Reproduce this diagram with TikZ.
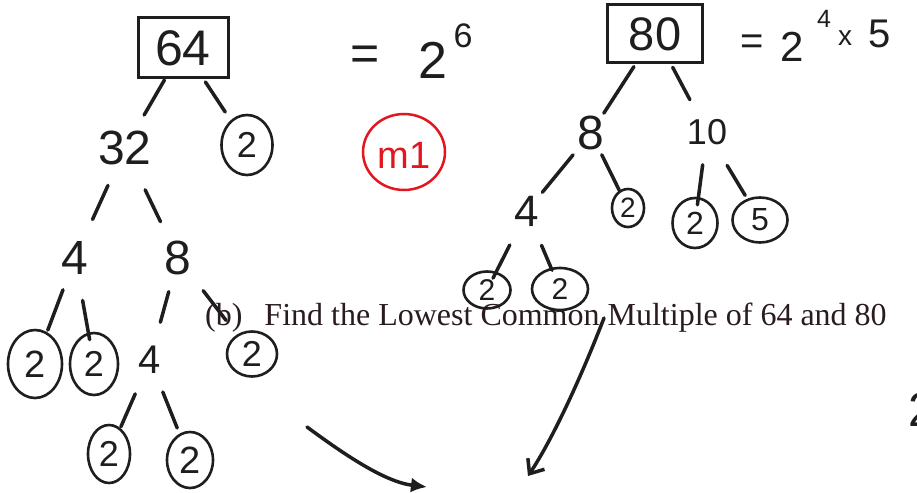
\documentclass[tikz,border=0pt]{standalone}
\usepackage{fontspec}
\setmainfont{Liberation Serif}
\newfontfamily\handfont{Liberation Sans}
\usetikzlibrary{shapes.geometric,arrows.meta,calc}
\definecolor{ink}{HTML}{1E1E1E}
\definecolor{redmark}{HTML}{E3151F}
\definecolor{printink}{HTML}{2A1C1E}
\newcommand\linkseg[4]{\draw[link] ($(#1)!#3!(#2)$) -- ($(#1)!#4!(#2)$);}
\begin{document}
\begin{tikzpicture}[x=1pt,y=-1pt,
  num/.style={font=\handfont\fontsize{#1}{#1}\selectfont, text=ink, inner sep=0pt},
  num/.default=48,
  boxn/.style={draw=ink, line width=3pt, rectangle},
  circ/.style={ellipse, draw=ink, line width=2.6pt, inner sep=0pt},
  link/.style={draw=ink, line width=3.5pt, line cap=round},
  printed/.style={font=\fontsize{32pt}{32pt}\selectfont, text=printink, inner sep=0pt}]
\clip (0,0) rectangle (917,492);
\fill[white] (0,0) rectangle (917,492);

% printed question
\node[printed, anchor=base west] (q) at (205,325) {(b)\hspace{22pt}Find the Lowest Common Multiple of 64 and 80};

% ---- left tree (64)
\node[boxn, num=50, minimum width=90pt, minimum height=60pt] (n64) at (183,48) {64};
\node[num=50] (eqA) at (365,58) {=};
\node[num=52] (twoA) at (433,60) {2};
\node[num=34] (sixA) at (463,36) {6};
\node[num=38, text=redmark] (m1) at (404,155) {m1};
\node[ellipse, draw=redmark, line width=2.5pt, minimum width=82pt, minimum height=76pt] (m1ring) at (404,152) {};

\node[num=48] (n32) at (125,148) {32};
\node[circ, num=36, minimum width=51pt, minimum height=60pt] (c2a) at (247,145) {2};
\node[num=48] (n4a) at (75,258) {4};
\node[num=48] (n8a) at (178,258) {8};
\node[circ, num=38, minimum width=54pt, minimum height=68pt] (c2b) at (35,364) {2};
\node[circ, num=36, minimum width=48pt, minimum height=62pt] (c2c) at (94,364) {2};
\node[num=40] (n4b) at (150,360) {4};
\node[circ, num=36, minimum width=50pt, minimum height=45pt] (c2d) at (252,354) {2};
\node[circ, num=36, minimum width=42pt, minimum height=58pt] (c2e) at (109,454) {2};
\node[circ, num=38, minimum width=46pt, minimum height=56pt] (c2f) at (190,460) {2};

\linkseg{n64}{n32}{0.32}{0.67}
\linkseg{n64}{c2a}{0.35}{0.66}
\linkseg{n32}{n4a}{0.34}{0.65}
\linkseg{n32}{n8a}{0.38}{0.67}
\linkseg{n4a}{c2b}{0.30}{0.68}
\linkseg{n4a}{c2c}{0.40}{0.77}
\linkseg{n8a}{n4b}{0.33}{0.63}
\linkseg{n8a}{c2d}{0.34}{0.65}
\linkseg{n4b}{c2e}{0.36}{0.71}
\linkseg{n4b}{c2f}{0.32}{0.68}

% ---- right tree (80)
\node[boxn, num=47, minimum width=95pt, minimum height=58pt] (n80) at (655,34) {80};
\node[num=40] (eqB) at (752,45) {=};
\node[num=42] (twoB) at (792,47) {2};
\node[num=25] (fourB) at (824,19) {4};
\node[num=28] (timesB) at (845,38) {x};
\node[num=40] (fiveB) at (880,34) {5};

\node[num=48] (n8b) at (591,133) {8};
\node[num=36] (n10) at (707,132) {10};
\node[num=44] (n4c) at (527,211) {4};
\node[circ, num=28, minimum width=32pt, minimum height=38pt] (c2g) at (628,208) {2};
\node[circ, num=32, minimum width=45pt, minimum height=50pt] (c2h) at (695,223) {2};
\node[circ, num=32, minimum width=55pt, minimum height=45pt] (c5) at (760,220) {5};
\node[circ, num=30, minimum width=47pt, minimum height=37pt] (c2i) at (487,290) {2};
\node[circ, num=30, minimum width=56pt, minimum height=42pt] (c2j) at (560,289) {2};

\linkseg{n80}{n8b}{0.33}{0.80}
\linkseg{n80}{n10}{0.34}{0.67}
\linkseg{n8b}{n4c}{0.28}{0.76}
\linkseg{n8b}{c2g}{0.29}{0.76}
\linkseg{n10}{c2h}{0.36}{0.80}
\linkseg{n10}{c5}{0.38}{0.72}
\linkseg{n4c}{c2i}{0.43}{0.85}
\linkseg{n4c}{c2j}{0.44}{0.76}

% partial digit at right edge
\node[num=48] (edge2) at (922,410) {2};

% arrows
\coordinate (a1s) at (307,427);
\coordinate (a1e) at (427,487);
\draw[link, -{Latex[length=16pt,width=15pt]}] (a1s) .. controls (345,455) and (385,482) .. (a1e);
\coordinate (a2s) at (604,318);
\coordinate (a2e) at (528,476);
\draw[link, -{Straight Barb[length=12pt,width=20pt]}] (a2s) .. controls (580,380) and (552,440) .. (a2e);
\end{tikzpicture}
\end{document}
